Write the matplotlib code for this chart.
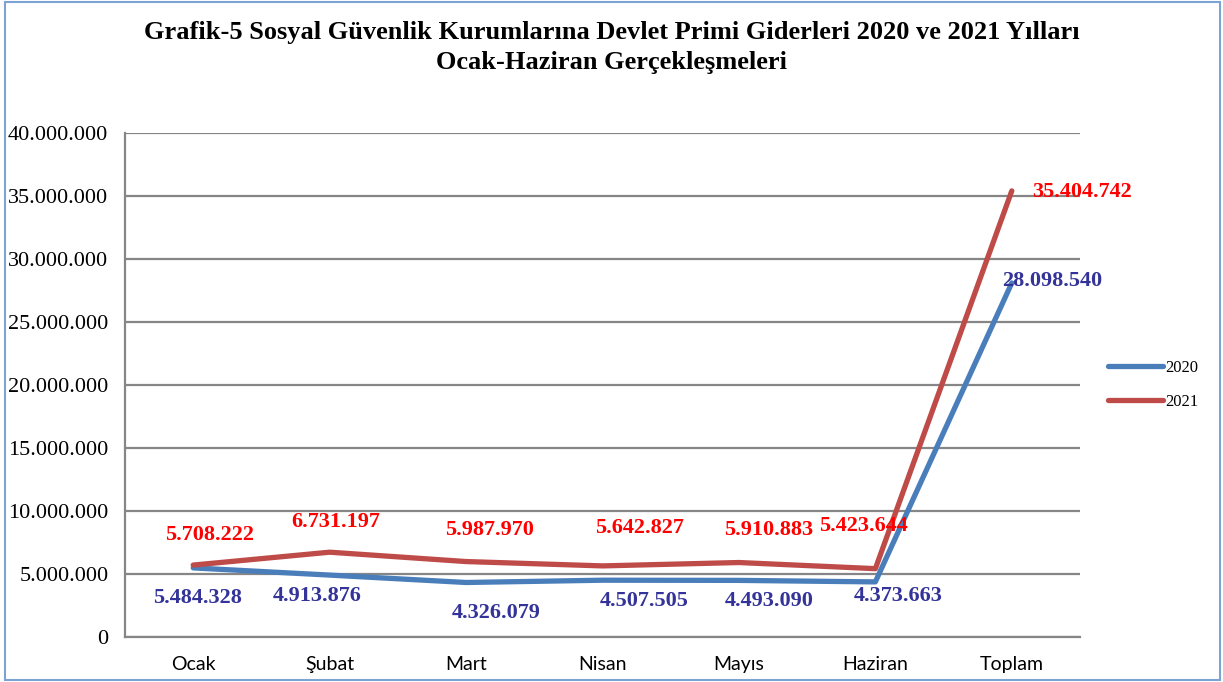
import matplotlib
matplotlib.use("Agg")
import matplotlib.pyplot as plt
from matplotlib.patches import Rectangle
from matplotlib.ticker import FuncFormatter

months = ["Ocak", "Şubat", "Mart", "Nisan", "Mayıs", "Haziran", "Toplam"]
values_2020 = [5484328, 4913876, 4326079, 4507505, 4493090, 4373663, 28098540]
values_2021 = [5708222, 6731197, 5987970, 5642827, 5910883, 5423644, 35404742]

# label offsets in pixels (dx, dy), as placed in the original chart
offsets_2020 = [(4, -30), (-12, -21), (30, -31), (42, -21), (30, -21), (23, -14), (40, 2)]
offsets_2021 = [(16, 30), (6, 30), (23, 32), (37, 38), (30, 33), (-12, 43), (70, -1)]

blue = "#4A7EBB"
red = "#BE4B48"
serif = "Liberation Serif"


def tr_fmt(v, pos=None):
    return f"{int(v):,}".replace(",", ".")


fig = plt.figure(figsize=(12.23, 6.82), dpi=100, facecolor="white")
ax = fig.add_axes([125 / 1223, 1 - 637 / 682, 955 / 1223, 504 / 682])

x = list(range(len(months)))
ax.plot(x, values_2020, color=blue, linewidth=3.8, solid_capstyle="round",
        solid_joinstyle="round", label="2020", zorder=3)
ax.plot(x, values_2021, color=red, linewidth=3.8, solid_capstyle="round",
        solid_joinstyle="round", label="2021", zorder=3)

for i, v in enumerate(values_2020):
    ax.annotate(tr_fmt(v), (i, v), xytext=offsets_2020[i], textcoords="offset pixels",
                ha="center", va="center", fontsize=16, fontweight="bold",
                family=serif, color="#333399", zorder=4)
for i, v in enumerate(values_2021):
    ax.annotate(tr_fmt(v), (i, v), xytext=offsets_2021[i], textcoords="offset pixels",
                ha="center", va="center", fontsize=16, fontweight="bold",
                family=serif, color="#FF0000", zorder=4)

ax.set_xlim(-0.5, len(months) - 0.5)
ax.set_ylim(0, 40000000)
ax.set_yticks(range(0, 40000001, 5000000))
ax.yaxis.set_major_formatter(FuncFormatter(tr_fmt))
ax.set_xticks(x)
ax.set_xticklabels(months, family="Lato", fontsize=14)
for lab in ax.get_yticklabels():
    lab.set_family(serif)
    lab.set_fontsize(16)
ax.tick_params(axis="both", length=0)
ax.tick_params(axis="x", pad=14)
ax.tick_params(axis="y", pad=12)

ax.grid(axis="y", color="#868686", linewidth=1.6)
ax.set_axisbelow(True)
for side in ["top", "right"]:
    ax.spines[side].set_visible(False)
ax.spines["left"].set_color("#868686")
ax.spines["left"].set_linewidth(1.6)
ax.spines["bottom"].set_color("#868686")
ax.spines["bottom"].set_linewidth(1.6)

fig.text(0.5, 1 - 32 / 682, "Grafik-5 Sosyal Güvenlik Kurumlarına Devlet Primi Giderleri 2020 ve 2021 Yılları",
         ha="center", va="center", family=serif, fontweight="bold", fontsize=19)
fig.text(0.5, 1 - 63 / 682, "Ocak-Haziran Gerçekleşmeleri",
         ha="center", va="center", family=serif, fontweight="bold", fontsize=19)

leg = fig.legend(loc="center left", bbox_to_anchor=(1093 / 1223, 1 - 385 / 682),
                 frameon=False, prop={"family": serif, "size": 12},
                 handlelength=3.3, handletextpad=0.15, labelspacing=1.1)

fig.patches.append(Rectangle((5 / 1223, 2 / 682), 1215 / 1223, 678 / 682,
                             transform=fig.transFigure, fill=False,
                             edgecolor="#7DA3D4", linewidth=1.5))

fig.savefig("out.png", dpi=100)
